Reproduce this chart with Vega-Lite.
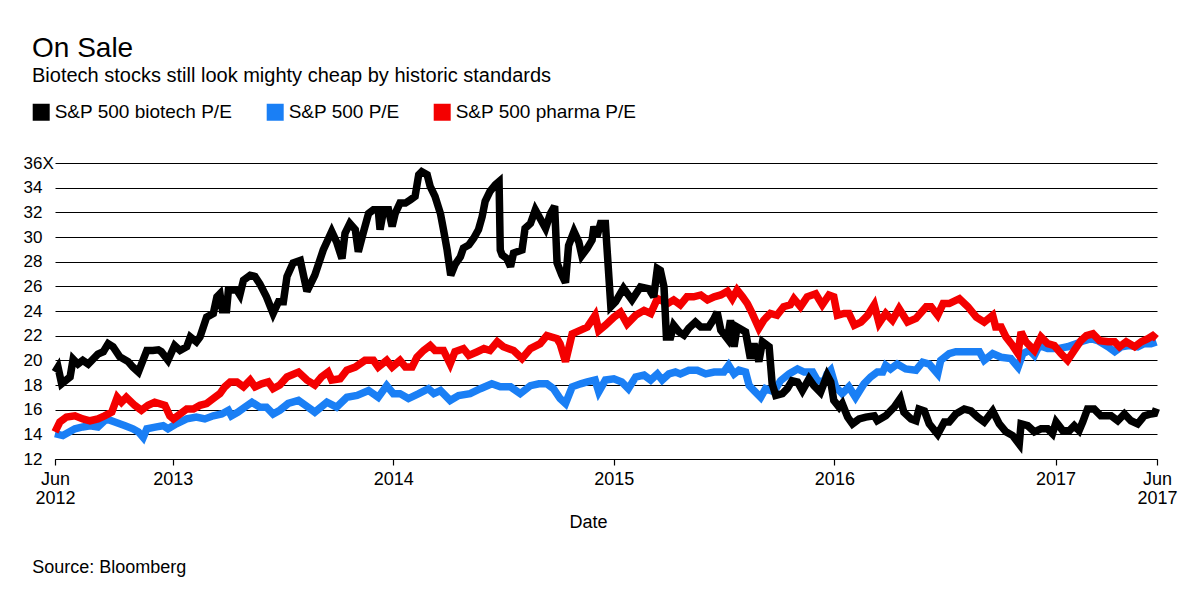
{
  "$schema": "https://vega.github.io/schema/vega-lite/v6.json",
  "width": 1102,
  "height": 296,
  "autosize": {"type": "none"},
  "padding": {"left": 55, "top": 163, "right": 43, "bottom": 152},
  "background": "white",
  "config": {"font": "Liberation Sans", "view": {"stroke": null}},
  "title": {
    "text": "On Sale",
    "subtitle": "Biotech stocks still look mighty cheap by historic standards",
    "anchor": "start",
    "frame": "group",
    "dx": -23,
    "offset": 16.5,
    "fontSize": 28,
    "fontWeight": "normal",
    "color": "black",
    "subtitleFontSize": 20,
    "subtitleColor": "black",
    "subtitlePadding": 3,
    "font": "Liberation Sans",
    "subtitleFont": "Liberation Sans"
  },
  "datasets": {
    "blue": [
      {"date":"2012-06-20","pe":14.05},{"date":"2012-07-03","pe":13.9},{"date":"2012-07-23","pe":14.45},{"date":"2012-08-05","pe":14.6},{"date":"2012-08-17","pe":14.7},{"date":"2012-08-30","pe":14.6},{"date":"2012-09-13","pe":15.25},{"date":"2012-09-27","pe":15.0},{"date":"2012-10-14","pe":14.7},{"date":"2012-10-27","pe":14.45},{"date":"2012-11-05","pe":14.2},{"date":"2012-11-13","pe":13.75},{"date":"2012-11-19","pe":14.45},{"date":"2012-12-05","pe":14.6},{"date":"2012-12-16","pe":14.7},{"date":"2012-12-24","pe":14.45},
      {"date":"2013-01-07","pe":14.85},{"date":"2013-01-24","pe":15.25},{"date":"2013-02-09","pe":15.4},{"date":"2013-02-23","pe":15.25},{"date":"2013-03-09","pe":15.5},{"date":"2013-03-23","pe":15.65},{"date":"2013-04-03","pe":15.95},{"date":"2013-04-08","pe":15.5},{"date":"2013-04-19","pe":15.8},{"date":"2013-04-30","pe":16.2},{"date":"2013-05-12","pe":16.6},{"date":"2013-05-25","pe":16.2},{"date":"2013-06-05","pe":16.2},{"date":"2013-06-16","pe":15.65},{"date":"2013-06-27","pe":15.95},{"date":"2013-07-11","pe":16.5},{"date":"2013-07-28","pe":16.75},{"date":"2013-08-13","pe":16.2},{"date":"2013-08-24","pe":15.8},{"date":"2013-09-13","pe":16.6},{"date":"2013-09-29","pe":16.2},{"date":"2013-10-16","pe":17.0},{"date":"2013-11-02","pe":17.15},{"date":"2013-11-21","pe":17.55},{"date":"2013-12-07","pe":17.0},{"date":"2013-12-21","pe":17.95},
      {"date":"2014-01-01","pe":17.3},{"date":"2014-01-12","pe":17.3},{"date":"2014-01-26","pe":16.9},{"date":"2014-02-12","pe":17.3},{"date":"2014-02-28","pe":17.7},{"date":"2014-03-09","pe":17.3},{"date":"2014-03-20","pe":17.55},{"date":"2014-04-05","pe":16.75},{"date":"2014-04-19","pe":17.15},{"date":"2014-05-08","pe":17.3},{"date":"2014-05-25","pe":17.7},{"date":"2014-06-13","pe":18.1},{"date":"2014-06-27","pe":17.85},{"date":"2014-07-14","pe":17.85},{"date":"2014-07-30","pe":17.3},{"date":"2014-08-16","pe":17.95},{"date":"2014-08-30","pe":18.1},{"date":"2014-09-12","pe":18.1},{"date":"2014-09-23","pe":17.7},{"date":"2014-10-04","pe":16.9},{"date":"2014-10-13","pe":16.5},{"date":"2014-10-24","pe":17.85},{"date":"2014-11-07","pe":18.1},{"date":"2014-11-18","pe":18.25},{"date":"2014-12-01","pe":18.4},{"date":"2014-12-07","pe":17.45},{"date":"2014-12-18","pe":18.4},
      {"date":"2015-01-01","pe":18.5},{"date":"2015-01-14","pe":18.25},{"date":"2015-01-25","pe":17.7},{"date":"2015-02-06","pe":18.65},{"date":"2015-02-20","pe":18.8},{"date":"2015-03-03","pe":18.4},{"date":"2015-03-14","pe":18.9},{"date":"2015-03-22","pe":18.4},{"date":"2015-04-02","pe":18.9},{"date":"2015-04-13","pe":19.05},{"date":"2015-04-21","pe":18.9},{"date":"2015-05-05","pe":19.2},{"date":"2015-05-19","pe":19.2},{"date":"2015-06-02","pe":18.9},{"date":"2015-06-16","pe":19.05},{"date":"2015-07-02","pe":19.05},{"date":"2015-07-10","pe":19.6},{"date":"2015-07-19","pe":18.9},{"date":"2015-07-27","pe":19.2},{"date":"2015-08-07","pe":19.05},{"date":"2015-08-13","pe":17.95},{"date":"2015-08-21","pe":17.55},{"date":"2015-09-01","pe":17.0},{"date":"2015-09-09","pe":17.7},{"date":"2015-09-23","pe":17.45},{"date":"2015-10-04","pe":18.35},{"date":"2015-10-18","pe":18.9},{"date":"2015-11-01","pe":19.3},{"date":"2015-11-12","pe":19.05},{"date":"2015-11-26","pe":19.05},{"date":"2015-12-04","pe":18.35},{"date":"2015-12-15","pe":18.25},{"date":"2015-12-20","pe":18.9},{"date":"2015-12-26","pe":19.2},
      {"date":"2016-01-03","pe":17.85},{"date":"2016-01-14","pe":17.3},{"date":"2016-01-25","pe":17.85},{"date":"2016-02-05","pe":17.0},{"date":"2016-02-19","pe":18.1},{"date":"2016-03-01","pe":18.65},{"date":"2016-03-12","pe":19.05},{"date":"2016-03-21","pe":19.05},{"date":"2016-03-26","pe":19.6},{"date":"2016-04-03","pe":19.3},{"date":"2016-04-14","pe":19.7},{"date":"2016-04-28","pe":19.3},{"date":"2016-05-15","pe":19.2},{"date":"2016-05-26","pe":19.85},{"date":"2016-06-06","pe":19.7},{"date":"2016-06-20","pe":18.9},{"date":"2016-06-25","pe":20.0},{"date":"2016-07-09","pe":20.55},{"date":"2016-07-20","pe":20.7},{"date":"2016-08-09","pe":20.7},{"date":"2016-08-28","pe":20.7},{"date":"2016-09-05","pe":20.0},{"date":"2016-09-19","pe":20.55},{"date":"2016-10-03","pe":20.25},{"date":"2016-10-19","pe":20.15},{"date":"2016-10-31","pe":19.45},{"date":"2016-11-08","pe":20.55},{"date":"2016-11-19","pe":20.8},{"date":"2016-11-27","pe":20.4},{"date":"2016-12-05","pe":21.2},{"date":"2016-12-19","pe":20.95},
      {"date":"2017-01-05","pe":20.95},{"date":"2017-01-21","pe":21.1},{"date":"2017-02-04","pe":21.35},{"date":"2017-02-18","pe":21.6},{"date":"2017-03-01","pe":21.75},{"date":"2017-03-12","pe":21.6},{"date":"2017-03-29","pe":21.1},{"date":"2017-04-09","pe":20.7},{"date":"2017-04-20","pe":21.1},{"date":"2017-05-03","pe":21.2},{"date":"2017-05-17","pe":21.1},{"date":"2017-05-28","pe":21.35},{"date":"2017-06-08","pe":21.35},{"date":"2017-06-17","pe":21.5}
    ],
    "red": [
      {"date":"2012-06-20","pe":14.2},{"date":"2012-06-28","pe":15.0},{"date":"2012-07-09","pe":15.4},{"date":"2012-07-23","pe":15.5},{"date":"2012-08-05","pe":15.25},{"date":"2012-08-17","pe":15.1},{"date":"2012-08-30","pe":15.25},{"date":"2012-09-10","pe":15.5},{"date":"2012-09-22","pe":15.8},{"date":"2012-10-01","pe":17.0},{"date":"2012-10-08","pe":16.6},{"date":"2012-10-16","pe":17.0},{"date":"2012-10-30","pe":16.35},{"date":"2012-11-10","pe":15.95},{"date":"2012-11-21","pe":16.35},{"date":"2012-12-02","pe":16.6},{"date":"2012-12-19","pe":16.35},{"date":"2012-12-27","pe":15.5},
      {"date":"2013-01-02","pe":15.25},{"date":"2013-01-13","pe":15.65},{"date":"2013-01-24","pe":16.05},{"date":"2013-02-04","pe":16.05},{"date":"2013-02-15","pe":16.35},{"date":"2013-02-26","pe":16.5},{"date":"2013-03-09","pe":16.9},{"date":"2013-03-20","pe":17.3},{"date":"2013-03-28","pe":17.85},{"date":"2013-04-06","pe":18.25},{"date":"2013-04-17","pe":18.25},{"date":"2013-04-28","pe":17.85},{"date":"2013-05-09","pe":18.4},{"date":"2013-05-17","pe":17.85},{"date":"2013-05-28","pe":18.1},{"date":"2013-06-08","pe":18.25},{"date":"2013-06-16","pe":17.7},{"date":"2013-06-27","pe":18.0},{"date":"2013-07-09","pe":18.65},{"date":"2013-07-28","pe":19.05},{"date":"2013-08-11","pe":18.4},{"date":"2013-08-24","pe":18.0},{"date":"2013-09-04","pe":18.65},{"date":"2013-09-15","pe":19.05},{"date":"2013-09-21","pe":18.4},{"date":"2013-10-05","pe":18.5},{"date":"2013-10-16","pe":19.2},{"date":"2013-10-30","pe":19.45},{"date":"2013-11-15","pe":20.0},{"date":"2013-11-29","pe":20.0},{"date":"2013-12-07","pe":19.45},{"date":"2013-12-21","pe":20.0},{"date":"2013-12-30","pe":19.45},
      {"date":"2014-01-12","pe":20.0},{"date":"2014-01-21","pe":19.45},{"date":"2014-02-01","pe":19.45},{"date":"2014-02-09","pe":20.25},{"date":"2014-02-20","pe":20.8},{"date":"2014-03-03","pe":21.2},{"date":"2014-03-11","pe":20.8},{"date":"2014-03-25","pe":20.8},{"date":"2014-04-05","pe":19.7},{"date":"2014-04-13","pe":20.7},{"date":"2014-04-27","pe":20.95},{"date":"2014-05-06","pe":20.4},{"date":"2014-05-20","pe":20.7},{"date":"2014-05-31","pe":20.95},{"date":"2014-06-10","pe":20.8},{"date":"2014-06-22","pe":21.5},{"date":"2014-07-02","pe":21.1},{"date":"2014-07-19","pe":20.8},{"date":"2014-08-02","pe":20.15},{"date":"2014-08-16","pe":20.95},{"date":"2014-09-01","pe":21.35},{"date":"2014-09-12","pe":22.0},{"date":"2014-09-29","pe":21.75},{"date":"2014-10-04","pe":21.35},{"date":"2014-10-13","pe":19.9},{"date":"2014-10-24","pe":22.15},{"date":"2014-11-07","pe":22.45},{"date":"2014-11-18","pe":22.7},{"date":"2014-12-01","pe":23.65},{"date":"2014-12-07","pe":22.4},{"date":"2014-12-18","pe":22.85},
      {"date":"2015-01-01","pe":23.5},{"date":"2015-01-12","pe":23.9},{"date":"2015-01-23","pe":22.95},{"date":"2015-02-06","pe":23.65},{"date":"2015-02-20","pe":24.05},{"date":"2015-03-03","pe":23.8},{"date":"2015-03-14","pe":25.0},{"date":"2015-03-31","pe":24.6},{"date":"2015-04-10","pe":24.9},{"date":"2015-04-21","pe":24.5},{"date":"2015-05-02","pe":25.15},{"date":"2015-05-13","pe":25.15},{"date":"2015-05-25","pe":25.3},{"date":"2015-06-05","pe":24.9},{"date":"2015-06-16","pe":25.15},{"date":"2015-06-27","pe":25.3},{"date":"2015-07-08","pe":25.6},{"date":"2015-07-16","pe":25.0},{"date":"2015-07-24","pe":25.7},{"date":"2015-08-02","pe":25.15},{"date":"2015-08-10","pe":24.6},{"date":"2015-08-18","pe":23.8},{"date":"2015-08-29","pe":22.6},{"date":"2015-09-06","pe":23.25},{"date":"2015-09-17","pe":23.8},{"date":"2015-09-28","pe":23.65},{"date":"2015-10-09","pe":24.35},{"date":"2015-10-20","pe":24.5},{"date":"2015-10-26","pe":25.0},{"date":"2015-11-06","pe":24.35},{"date":"2015-11-17","pe":25.15},{"date":"2015-12-01","pe":25.4},{"date":"2015-12-12","pe":24.5},{"date":"2015-12-23","pe":25.3},{"date":"2015-12-31","pe":25.15},
      {"date":"2016-01-06","pe":23.65},{"date":"2016-01-17","pe":23.8},{"date":"2016-01-25","pe":23.8},{"date":"2016-02-03","pe":22.85},{"date":"2016-02-14","pe":23.1},{"date":"2016-02-25","pe":23.65},{"date":"2016-03-07","pe":24.5},{"date":"2016-03-15","pe":23.0},{"date":"2016-03-26","pe":23.8},{"date":"2016-04-06","pe":23.25},{"date":"2016-04-17","pe":24.2},{"date":"2016-05-01","pe":23.1},{"date":"2016-05-15","pe":23.4},{"date":"2016-06-01","pe":24.35},{"date":"2016-06-09","pe":24.35},{"date":"2016-06-20","pe":23.65},{"date":"2016-06-29","pe":24.6},{"date":"2016-07-09","pe":24.6},{"date":"2016-07-26","pe":25.0},{"date":"2016-08-09","pe":24.35},{"date":"2016-08-23","pe":23.5},{"date":"2016-09-05","pe":23.1},{"date":"2016-09-19","pe":23.65},{"date":"2016-09-24","pe":22.7},{"date":"2016-10-03","pe":22.7},{"date":"2016-10-11","pe":21.9},{"date":"2016-10-22","pe":21.2},{"date":"2016-10-31","pe":20.55},{"date":"2016-11-05","pe":22.3},{"date":"2016-11-13","pe":21.5},{"date":"2016-11-27","pe":20.8},{"date":"2016-12-08","pe":21.9},{"date":"2016-12-19","pe":21.35},{"date":"2016-12-30","pe":21.2},
      {"date":"2017-01-10","pe":20.55},{"date":"2017-01-21","pe":20.0},{"date":"2017-02-01","pe":20.8},{"date":"2017-02-12","pe":21.6},{"date":"2017-02-21","pe":22.0},{"date":"2017-03-04","pe":22.15},{"date":"2017-03-15","pe":21.6},{"date":"2017-03-29","pe":21.5},{"date":"2017-04-09","pe":21.5},{"date":"2017-04-17","pe":21.1},{"date":"2017-04-28","pe":21.5},{"date":"2017-05-12","pe":21.1},{"date":"2017-05-23","pe":21.5},{"date":"2017-06-03","pe":21.75},{"date":"2017-06-11","pe":22.0},{"date":"2017-06-17","pe":21.75}
    ],
    "black": [
      {"date":"2012-06-20","pe":19.05},{"date":"2012-06-25","pe":19.45},{"date":"2012-07-01","pe":18.1},{"date":"2012-07-15","pe":18.65},{"date":"2012-07-20","pe":20.1},{"date":"2012-07-28","pe":19.7},{"date":"2012-08-05","pe":20.0},{"date":"2012-08-14","pe":19.7},{"date":"2012-08-22","pe":20.1},{"date":"2012-08-30","pe":20.5},{"date":"2012-09-08","pe":20.7},{"date":"2012-09-16","pe":21.35},{"date":"2012-09-24","pe":21.1},{"date":"2012-10-05","pe":20.3},{"date":"2012-10-19","pe":19.9},{"date":"2012-10-27","pe":19.45},{"date":"2012-11-05","pe":19.05},{"date":"2012-11-19","pe":20.8},{"date":"2012-11-29","pe":20.8},{"date":"2012-12-08","pe":20.85},{"date":"2012-12-13","pe":20.7},{"date":"2012-12-24","pe":20.0},
      {"date":"2013-01-04","pe":21.2},{"date":"2013-01-13","pe":20.8},{"date":"2013-01-24","pe":21.1},{"date":"2013-01-30","pe":21.9},{"date":"2013-02-09","pe":21.5},{"date":"2013-02-15","pe":21.9},{"date":"2013-02-26","pe":23.5},{"date":"2013-03-09","pe":23.8},{"date":"2013-03-15","pe":25.15},{"date":"2013-03-20","pe":25.4},{"date":"2013-03-24","pe":24.1},{"date":"2013-03-31","pe":24.1},{"date":"2013-04-03","pe":25.7},{"date":"2013-04-17","pe":25.7},{"date":"2013-04-22","pe":25.3},{"date":"2013-04-28","pe":26.5},{"date":"2013-05-09","pe":26.9},{"date":"2013-05-17","pe":26.8},{"date":"2013-05-25","pe":26.2},{"date":"2013-06-05","pe":25.15},{"date":"2013-06-16","pe":23.8},{"date":"2013-06-25","pe":24.75},{"date":"2013-07-03","pe":24.75},{"date":"2013-07-09","pe":26.8},{"date":"2013-07-19","pe":27.9},{"date":"2013-07-31","pe":28.1},{"date":"2013-08-11","pe":25.6},{"date":"2013-08-24","pe":26.9},{"date":"2013-09-07","pe":28.95},{"date":"2013-09-21","pe":30.45},{"date":"2013-09-29","pe":29.6},{"date":"2013-10-08","pe":28.25},{"date":"2013-10-13","pe":30.3},{"date":"2013-10-21","pe":31.1},{"date":"2013-10-30","pe":30.6},{"date":"2013-11-04","pe":28.8},{"date":"2013-11-12","pe":30.3},{"date":"2013-11-21","pe":31.9},{"date":"2013-11-29","pe":32.2},{"date":"2013-12-07","pe":32.2},{"date":"2013-12-10","pe":30.6},{"date":"2013-12-16","pe":32.2},{"date":"2013-12-24","pe":32.2},{"date":"2013-12-30","pe":30.85},
      {"date":"2014-01-04","pe":31.9},{"date":"2014-01-12","pe":32.75},{"date":"2014-01-21","pe":32.75},{"date":"2014-01-29","pe":33.0},{"date":"2014-02-06","pe":33.3},{"date":"2014-02-12","pe":35.05},{"date":"2014-02-17","pe":35.3},{"date":"2014-02-26","pe":35.05},{"date":"2014-03-03","pe":34.1},{"date":"2014-03-11","pe":33.3},{"date":"2014-03-20","pe":31.9},{"date":"2014-03-25","pe":30.6},{"date":"2014-03-31","pe":28.95},{"date":"2014-04-06","pe":26.9},{"date":"2014-04-13","pe":27.75},{"date":"2014-04-22","pe":28.4},{"date":"2014-04-27","pe":29.1},{"date":"2014-05-06","pe":29.35},{"date":"2014-05-14","pe":29.9},{"date":"2014-05-22","pe":30.6},{"date":"2014-05-28","pe":31.65},{"date":"2014-06-02","pe":32.9},{"date":"2014-06-10","pe":33.7},{"date":"2014-06-19","pe":34.25},{"date":"2014-06-25","pe":34.5},{"date":"2014-06-27","pe":28.95},{"date":"2014-06-30","pe":28.55},{"date":"2014-07-08","pe":28.25},{"date":"2014-07-14","pe":27.6},{"date":"2014-07-19","pe":28.7},{"date":"2014-08-02","pe":28.95},{"date":"2014-08-07","pe":30.7},{"date":"2014-08-16","pe":31.1},{"date":"2014-08-24","pe":32.2},{"date":"2014-09-01","pe":31.5},{"date":"2014-09-10","pe":30.7},{"date":"2014-09-18","pe":31.9},{"date":"2014-09-25","pe":32.5},{"date":"2014-09-29","pe":27.9},{"date":"2014-10-07","pe":26.9},{"date":"2014-10-13","pe":26.3},{"date":"2014-10-18","pe":29.3},{"date":"2014-10-27","pe":30.45},{"date":"2014-11-04","pe":29.6},{"date":"2014-11-09","pe":28.5},{"date":"2014-11-18","pe":29.1},{"date":"2014-11-26","pe":29.75},{"date":"2014-11-29","pe":30.85},{"date":"2014-12-04","pe":30.05},{"date":"2014-12-10","pe":31.1},{"date":"2014-12-18","pe":31.1},{"date":"2014-12-27","pe":24.35},
      {"date":"2015-01-04","pe":24.75},{"date":"2015-01-17","pe":25.85},{"date":"2015-01-31","pe":24.9},{"date":"2015-02-14","pe":25.95},{"date":"2015-02-28","pe":25.8},{"date":"2015-03-08","pe":25.15},{"date":"2015-03-14","pe":27.45},{"date":"2015-03-19","pe":27.3},{"date":"2015-03-25","pe":25.95},{"date":"2015-03-29","pe":21.9},{"date":"2015-04-05","pe":21.9},{"date":"2015-04-10","pe":22.85},{"date":"2015-04-19","pe":22.3},{"date":"2015-04-27","pe":22.05},{"date":"2015-05-05","pe":22.6},{"date":"2015-05-16","pe":23.1},{"date":"2015-05-25","pe":22.7},{"date":"2015-06-07","pe":22.7},{"date":"2015-06-16","pe":23.4},{"date":"2015-06-21","pe":23.9},{"date":"2015-06-27","pe":22.45},{"date":"2015-07-08","pe":21.75},{"date":"2015-07-13","pe":23.25},{"date":"2015-07-19","pe":21.1},{"date":"2015-07-24","pe":22.7},{"date":"2015-08-07","pe":22.3},{"date":"2015-08-15","pe":20.15},{"date":"2015-08-21","pe":21.35},{"date":"2015-08-29","pe":19.9},{"date":"2015-09-04","pe":21.5},{"date":"2015-09-15","pe":21.1},{"date":"2015-09-20","pe":18.1},{"date":"2015-09-26","pe":17.15},{"date":"2015-10-07","pe":17.3},{"date":"2015-10-15","pe":17.7},{"date":"2015-10-23","pe":18.35},{"date":"2015-11-01","pe":18.25},{"date":"2015-11-09","pe":17.55},{"date":"2015-11-20","pe":18.5},{"date":"2015-11-28","pe":17.95},{"date":"2015-12-09","pe":17.4},{"date":"2015-12-20","pe":18.8},{"date":"2015-12-26","pe":18.25},{"date":"2015-12-31","pe":16.75},
      {"date":"2016-01-09","pe":16.2},{"date":"2016-01-14","pe":16.5},{"date":"2016-01-23","pe":15.4},{"date":"2016-01-31","pe":14.85},{"date":"2016-02-11","pe":15.25},{"date":"2016-02-22","pe":15.4},{"date":"2016-03-07","pe":15.5},{"date":"2016-03-12","pe":15.1},{"date":"2016-03-26","pe":15.5},{"date":"2016-04-09","pe":16.2},{"date":"2016-04-19","pe":16.9},{"date":"2016-04-25","pe":15.8},{"date":"2016-05-07","pe":15.25},{"date":"2016-05-15","pe":15.1},{"date":"2016-05-20","pe":16.05},{"date":"2016-05-29","pe":15.9},{"date":"2016-06-06","pe":14.85},{"date":"2016-06-20","pe":14.0},{"date":"2016-07-01","pe":15.0},{"date":"2016-07-09","pe":15.0},{"date":"2016-07-20","pe":15.65},{"date":"2016-08-03","pe":16.05},{"date":"2016-08-14","pe":15.9},{"date":"2016-08-25","pe":15.4},{"date":"2016-09-05","pe":15.0},{"date":"2016-09-19","pe":15.9},{"date":"2016-09-30","pe":14.85},{"date":"2016-10-11","pe":14.2},{"date":"2016-10-22","pe":13.9},{"date":"2016-11-02","pe":13.2},{"date":"2016-11-05","pe":14.85},{"date":"2016-11-16","pe":14.7},{"date":"2016-11-27","pe":14.2},{"date":"2016-12-08","pe":14.45},{"date":"2016-12-19","pe":14.45},{"date":"2016-12-27","pe":14.05},
      {"date":"2017-01-02","pe":15.0},{"date":"2017-01-13","pe":14.3},{"date":"2017-01-24","pe":14.3},{"date":"2017-02-01","pe":14.7},{"date":"2017-02-09","pe":14.3},{"date":"2017-02-15","pe":15.0},{"date":"2017-02-23","pe":16.05},{"date":"2017-03-06","pe":16.05},{"date":"2017-03-17","pe":15.5},{"date":"2017-04-03","pe":15.5},{"date":"2017-04-14","pe":15.1},{"date":"2017-04-25","pe":15.65},{"date":"2017-05-06","pe":15.1},{"date":"2017-05-17","pe":14.85},{"date":"2017-05-28","pe":15.5},{"date":"2017-06-08","pe":15.65},{"date":"2017-06-14","pe":15.7},{"date":"2017-06-17","pe":16.1}
    ]
  },
  "encoding": {
    "x": {
      "field": "date",
      "type": "temporal",
      "scale": {
        "type": "utc",
        "domain": [
          {"year": 2012, "month": 6, "date": 20, "utc": true},
          {"year": 2017, "month": 6, "date": 18, "utc": true}
        ]
      },
      "axis": {
        "title": "Date",
        "titleX": 533,
        "titleY": 68,
        "titleAlign": "center",
        "titleBaseline": "alphabetic",
        "titleFontSize": 18,
        "titleFontWeight": "normal",
        "titleColor": "black",
        "titleFont": "Liberation Sans",
        "values": [
          {"year": 2012, "month": 6, "date": 20, "utc": true},
          {"year": 2013, "month": 1, "date": 1, "utc": true},
          {"year": 2014, "month": 1, "date": 1, "utc": true},
          {"year": 2015, "month": 1, "date": 1, "utc": true},
          {"year": 2016, "month": 1, "date": 1, "utc": true},
          {"year": 2017, "month": 1, "date": 1, "utc": true},
          {"year": 2017, "month": 6, "date": 18, "utc": true}
        ],
        "labelExpr": "utcmonth(datum.value) == 0 ? utcFormat(datum.value, '%Y') : [utcFormat(datum.value, '%b'), utcFormat(datum.value, '%Y')]",
        "labelFontSize": 18,
        "labelFont": "Liberation Sans",
        "labelColor": "black",
        "labelLineHeight": 19,
        "labelBaseline": "top",
        "labelPadding": 5,
        "labelOverlap": false,
        "labelFlush": false,
        "tickSize": 6,
        "tickColor": "black",
        "tickWidth": 1.2,
        "domainColor": "black",
        "domainWidth": 1.2,
        "grid": false
      }
    },
    "y": {
      "field": "pe",
      "type": "quantitative",
      "scale": {"domain": [12, 36], "nice": false, "zero": false},
      "axis": {
        "title": "Source: Bloomberg",
        "titleAngle": 0,
        "titleX": -23.3,
        "titleY": 409.7,
        "titleAlign": "left",
        "titleBaseline": "alphabetic",
        "titleFontSize": 18,
        "titleFontWeight": "normal",
        "titleFont": "Liberation Sans",
        "titleColor": "black",
        "values": [12, 14, 16, 18, 20, 22, 24, 26, 28, 30, 32, 34, 36],
        "labelExpr": "datum.value == 36 ? '36X' : datum.label",
        "labelAlign": "left",
        "labelPadding": 32,
        "labelFontSize": 17,
        "labelFont": "Liberation Sans",
        "labelColor": "black",
        "ticks": false,
        "tickSize": 0,
        "domain": false,
        "grid": true,
        "gridColor": "black",
        "gridWidth": 1.2,
        "gridOpacity": 1
      }
    }
  },
  "layer": [
    {
      "data": {"name": "blue"},
      "mark": {"type": "line", "strokeWidth": 7.5, "strokeJoin": "miter", "strokeMiterLimit": 3},
      "encoding": {"color": {"datum": "S&P 500 P/E"}}
    },
    {
      "data": {"name": "red"},
      "mark": {"type": "line", "strokeWidth": 7.5, "strokeJoin": "miter", "strokeMiterLimit": 3},
      "encoding": {"color": {"datum": "S&P 500 pharma P/E"}}
    },
    {
      "data": {"name": "black"},
      "mark": {"type": "line", "strokeWidth": 7.5, "strokeJoin": "miter", "strokeMiterLimit": 3},
      "encoding": {
        "color": {
          "datum": "S&P 500 biotech P/E",
          "scale": {
            "domain": ["S&P 500 biotech P/E", "S&P 500 P/E", "S&P 500 pharma P/E"],
            "range": ["#000000", "#1a7ff5", "#f40000"]
          },
          "legend": {
            "title": null,
            "orient": "none",
            "legendX": -23.3,
            "legendY": -60.5,
            "direction": "horizontal",
            "symbolType": "square",
            "symbolSize": 289,
            "symbolStrokeWidth": 0,
            "labelFontSize": 19,
            "labelFont": "Liberation Sans",
            "labelColor": "black",
            "labelOffset": 4,
            "labelLimit": 400,
            "columnPadding": 33,
            "encode": {
              "symbols": {
                "update": {
                  "fill": {"scale": "color", "field": "value"},
                  "stroke": {"value": "transparent"}
                }
              }
            }
          }
        }
      }
    }
  ]
}
